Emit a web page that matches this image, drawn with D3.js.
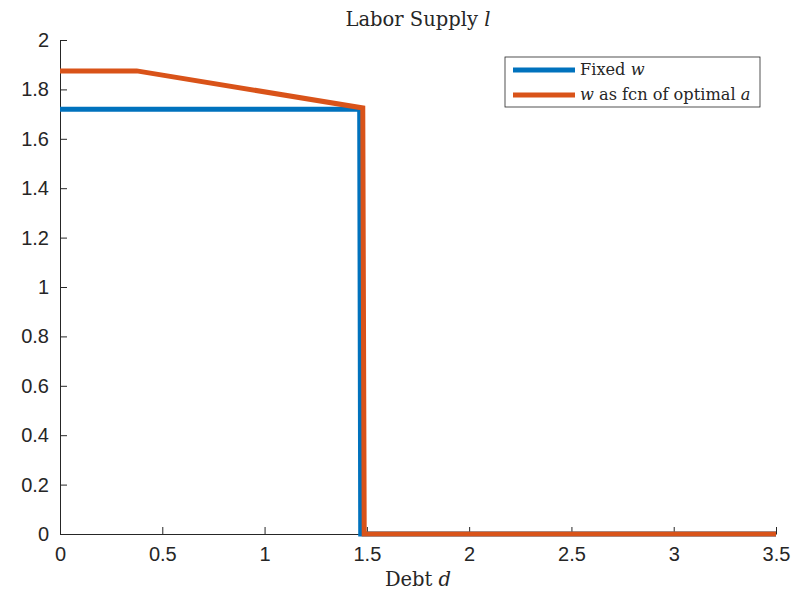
<!DOCTYPE html>
<html>
<head>
<meta charset="utf-8">
<script src="https://cdn.jsdelivr.net/npm/d3@7"></script>
<style>
  body { margin: 0; background: #fff; }
  .serif { font-family: "DejaVu Serif", serif; fill: #262626; }
</style>
</head>
<body>
<div id="chart"></div>
<script>
// data
const fixedX = [0, 1.465, 1.47, 3.5];
const fixedY = [1.72, 1.72, 0, 0];
const optX = [0, 0.375, 1.48, 1.487, 3.5];
const optY = [1.875, 1.875, 1.725, 0, 0];
const xTicks = [0, 0.5, 1, 1.5, 2, 2.5, 3, 3.5];
const yTicks = [0, 0.2, 0.4, 0.6, 0.8, 1, 1.2, 1.4, 1.6, 1.8, 2];

const width = 800, height = 594;
const margin = { left: 60, right: 24, top: 40, bottom: 60 };

const svg = d3.select('#chart').append('svg')
  .attr('width', width)
  .attr('height', height);

const x = d3.scaleLinear().domain([0, 3.5]).range([margin.left, width - margin.right]);
const y = d3.scaleLinear().domain([0, 2]).range([height - margin.bottom, margin.top]);

function styleAxis(g) {
  g.attr('font-family', '"Liberation Sans", Arial, sans-serif');
  g.select('.domain').attr('stroke', '#262626');
  g.selectAll('.tick line').attr('stroke', '#262626');
  g.selectAll('.tick text').attr('fill', '#262626').style('font-size', '20px');
}

// x axis
svg.append('g')
  .attr('transform', `translate(0, ${y(0)})`)
  .call(d3.axisBottom(x).tickValues(xTicks).tickSizeInner(-7).tickSizeOuter(0).tickPadding(13)
    .tickFormat(d3.format('')))
  .call(styleAxis);

// y axis
svg.append('g')
  .attr('transform', `translate(${x(0)}, 0)`)
  .call(d3.axisLeft(y).tickValues(yTicks).tickSizeInner(-7).tickSizeOuter(0).tickPadding(11)
    .tickFormat(d3.format('')))
  .call(styleAxis);

const line = d3.line().x(d => x(d[0])).y(d => y(d[1]));

svg.append('path')
  .datum(d3.zip(fixedX, fixedY))
  .attr('fill', 'none')
  .attr('stroke', '#0072BD')
  .attr('stroke-width', 5)
  .attr('d', line);

svg.append('path')
  .datum(d3.zip(optX, optY))
  .attr('fill', 'none')
  .attr('stroke', '#D95319')
  .attr('stroke-width', 5)
  .attr('d', line);

// title and x label
svg.append('text')
  .attr('class', 'serif')
  .attr('x', (x(0) + x(3.5)) / 2)
  .attr('y', 26)
  .attr('text-anchor', 'middle')
  .attr('font-size', 19.5)
  .html('Labor Supply <tspan font-style="italic">l</tspan>');

svg.append('text')
  .attr('class', 'serif')
  .attr('x', (x(0) + x(3.5)) / 2)
  .attr('y', 586)
  .attr('text-anchor', 'middle')
  .attr('font-size', 19.5)
  .html('Debt <tspan font-style="italic">d</tspan>');

// legend
const legend = svg.append('g').attr('transform', 'translate(505, 57)');
legend.append('rect')
  .attr('width', 255).attr('height', 50)
  .attr('fill', '#fff').attr('stroke', '#262626').attr('stroke-width', 0.8);

const items = [
  { color: '#0072BD', label: 'Fixed <tspan font-style="italic">w</tspan>' },
  { color: '#D95319', label: '<tspan font-style="italic">w</tspan> as fcn of optimal <tspan font-style="italic">a</tspan>' }
];
items.forEach((it, i) => {
  const cy = 13 + i * 25;
  legend.append('line')
    .attr('x1', 8).attr('x2', 70).attr('y1', cy).attr('y2', cy)
    .attr('stroke', it.color).attr('stroke-width', 5);
  legend.append('text')
    .attr('class', 'serif')
    .attr('x', 75).attr('y', cy + 5)
    .attr('font-size', 16.2)
    .html(it.label);
});
</script>
</body>
</html>
